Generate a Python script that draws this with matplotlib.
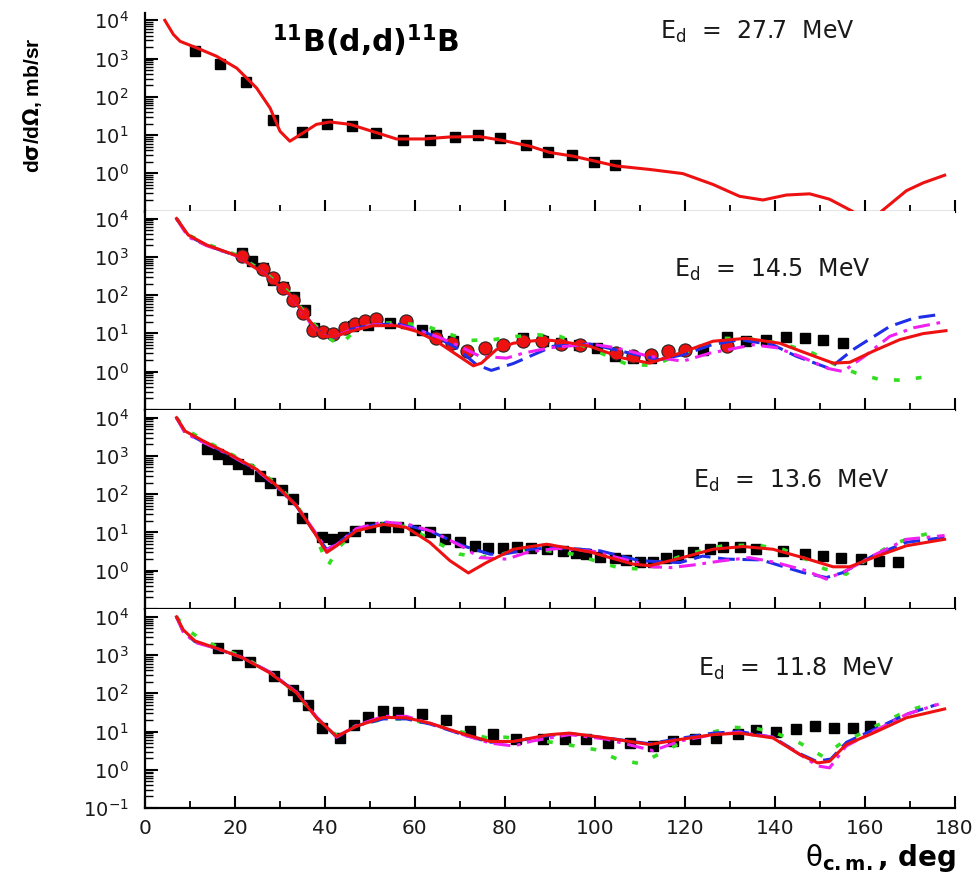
import numpy as np
import matplotlib
matplotlib.use("Agg")
import matplotlib.pyplot as plt
from matplotlib.ticker import LogLocator, MultipleLocator, FixedLocator, NullFormatter

plt.rcParams['font.family'] = ['DejaVu Sans']
plt.rcParams['mathtext.fontset'] = 'dejavusans'

# ---- 27.7 MeV ----
th_exp1 = [11.1, 16.7, 22.4, 28.5, 34.8, 40.5, 46.1, 51.3, 57.4, 63.3, 68.9, 74.1, 78.9, 84.7, 89.6, 95.0, 99.8, 104.4]
cs_exp1 = [1620, 740, 240, 24.5, 12, 20, 17, 11.5, 7.3, 7.3, 8.9, 10, 8.2, 5.6, 3.5, 3.0, 2.0, 1.65]
th_red1 = [4.4, 6.3, 7.8, 11.5, 15.9, 20.4, 24.8, 27.8, 30, 32.2, 35.2, 38.1, 41.1, 45.6, 51.5, 55.9, 61.9, 67.8,
           74.4, 79.6, 85.6, 90, 95.2, 104.8, 112.2, 119.6, 126.3, 132.2, 137.4, 142.6, 147.8, 152.2, 157.4,
           160.5, 163.7, 169.3, 173, 177.8]
cs_red1 = [10000, 4270, 2820, 1900, 1150, 560, 170, 51, 12.6, 6.9, 11.5, 19, 22, 19, 11.5, 7.9, 7.9, 8.9,
           9.1, 7.2, 5.1, 3.5, 2.8, 1.55, 1.26, 0.98, 0.51, 0.25, 0.20, 0.27, 0.29, 0.21, 0.10,
           0.01, 0.10, 0.35, 0.56, 0.89]

# ---- 14.5 MeV ----
th_exp2 = [21.5, 23.7, 26.3, 28.5, 30.7, 33.2, 35.6, 37.6, 46.3, 49.6, 54.4, 58.1, 61.5, 64.8, 68.5, 84.1, 88.5,
           92.4, 96.5, 100.4, 104.4, 108.5, 112.6, 124.1, 129.3, 133.7, 138.1, 142.6, 146.7, 150.7, 155.2]
cs_exp2 = [1230, 794, 500, 251, 166, 89, 40, 13.8, 15.1, 16.6, 18.6, 18.6, 12.3, 9.1, 6.2, 7.4, 6.3,
           5.5, 5.0, 4.1, 2.6, 2.24, 2.24, 3.7, 7.8, 6.2, 6.8, 7.9, 7.4, 6.5, 5.5]
th_circ2 = [21.5, 26.3, 28.5, 30.7, 32.9, 35.1, 37.4, 39.6, 41.9, 44.4, 46.7, 48.9, 51.3, 58.1, 64.8, 68.3, 71.5,
            75.6, 79.6, 84.1, 88.3, 92.6, 96.7, 104.8, 108.5, 112.6, 116.3, 120.0, 129.3]
cs_circ2 = [1070, 480, 275, 150, 72, 34, 12.3, 10.7, 9.5, 14.1, 17.4, 21.4, 24, 20.4, 7.4, 5.5, 3.4,
            4.1, 5.0, 6.2, 6.2, 5.2, 5.0, 3.0, 2.5, 2.75, 3.4, 3.7, 4.6]
th_red2 = [7, 9.6, 13.7, 20.4, 26.3, 32.2, 36.7, 39.6, 42.2, 45.6, 50.7, 55.9, 60.4, 64.8, 69.3, 73, 74.8, 78.1,
           81.9, 88.5, 92.2, 98.9, 106.3, 112.2, 118.9, 126.3, 133.7, 141.1, 147, 153, 156.7, 161.9, 167.8, 173, 178.1]
cs_red2 = [10000, 3720, 2040, 1070, 372, 102, 20.4, 8.3, 8.3, 11.2, 15.8, 15.8, 11.2, 6.2, 2.75, 1.41, 1.66, 3.72,
           5.5, 6.8, 6.2, 4.57, 2.24, 1.66, 3.02, 6.2, 7.4, 5.5, 3.02, 1.66, 1.74, 3.39, 6.8, 9.8, 11.7]
th_blue2 = [7, 9.6, 13.7, 20.4, 26.3, 32.2, 36.7, 39.6, 42.2, 45.6, 50.7, 55.9, 60.4, 64.8, 69.3, 73.7, 77, 81.9,
            85.6, 90.7, 99, 107.8, 114.4, 120, 126, 132.2, 139.6, 144.8, 152.2, 157.4, 165.6, 171, 176.7]
cs_blue2 = [10000, 3550, 2000, 1050, 380, 100, 20, 8.9, 7.9, 12.6, 16.6, 17.8, 13.2, 7.9, 4.17, 1.51, 1.07, 1.62,
            2.51, 4.57, 5.25, 3.02, 2.04, 2.82, 5.0, 6.8, 5.0, 2.51, 1.2, 3.72, 15.1, 25, 31]
th_mag2 = [7, 9.6, 13.7, 20.4, 26.3, 32.2, 36.7, 39.6, 42.2, 45.6, 50.7, 55.9, 60.4, 64.8, 69.3, 74.4, 80.4, 84.1,
           90, 99, 104.8, 112, 119.6, 125.6, 135.2, 140.5, 146, 151.9, 155.2, 160, 165.6, 171, 178.1]
cs_mag2 = [10000, 3310, 1950, 1050, 380, 100, 19, 8.5, 8.3, 12, 16.6, 16.6, 12.6, 8.3, 5.0, 2.51, 2.24, 3.02,
           4.17, 5.25, 4.17, 2.51, 1.86, 3.02, 5.0, 4.17, 2.4, 1.2, 1.0, 2.51, 8.3, 14, 20.4]
th_grn2 = [7, 10, 14, 20.4, 26.3, 32.2, 36.7, 40, 43.3, 46.5, 51, 56, 62.2, 67, 72.2, 77.4, 82.6, 87.4, 92.2,
           100, 107.4, 113, 119, 128.5, 135, 142, 148.5, 154, 158.1, 163.3, 168.5, 173.3]
cs_grn2 = [10000, 3550, 2090, 1120, 417, 112, 22.4, 8.9, 4.79, 11.2, 17.8, 19, 15.8, 10, 6.5, 6.8, 8.3, 9.1, 8.3,
           3.55, 1.51, 1.45, 2.82, 7.4, 7.1, 5.25, 3.02, 1.41, 0.91, 0.62, 0.59, 0.72]

# ---- 13.6 MeV ----
th_exp3 = [13.7, 16.3, 18.5, 20.7, 23, 25.6, 27.8, 30.4, 32.8, 35, 39.3, 41.9, 44.1, 46.7, 50, 53.3, 56.3, 60,
           63.3, 66.7, 70, 73.3, 76.3, 79.6, 82.6, 85.9, 89.4, 93, 95.9, 98.1, 101.1, 104.4, 107, 110, 113,
           115.9, 118.5, 121.9, 125.6, 128.5, 132.2, 135.9, 141.9, 146.7, 150.7, 154.8, 159.3, 163.3, 167.4]
cs_exp3 = [1480, 1100, 813, 603, 447, 302, 200, 129, 74, 24.5, 7.4, 6.6, 7.4, 11, 13.5, 13.5, 13.5, 11.5,
           10, 6.6, 5.5, 4.47, 3.89, 3.89, 4.07, 3.8, 3.63, 3.31, 2.95, 2.69, 2.34, 2.09, 1.91, 1.70, 1.70,
           2.19, 2.51, 3.09, 3.63, 4.07, 4.07, 3.63, 3.31, 2.69, 2.45, 2.09, 2.0, 1.82, 1.70]
th_red3 = [7, 8.9, 13, 18.9, 24.8, 29.3, 33.7, 37.4, 40.4, 42.6, 47, 53, 58.1, 63.3, 67.8, 71.9, 75.9, 81.9,
           89.3, 98.9, 108.5, 112.2, 118.9, 126.3, 133, 139.6, 146.3, 153, 156.7, 161.9, 169.3, 177.8]
cs_red3 = [10000, 4470, 2450, 1100, 447, 166, 49, 11, 3.0, 4.47, 11, 16.2, 13.5, 5.5, 1.82, 0.87, 1.62, 3.63,
           4.9, 3.09, 1.48, 1.35, 2.09, 3.63, 4.27, 3.63, 2.19, 1.26, 1.26, 2.19, 4.47, 6.6]
th_blue3 = [7, 8.9, 13, 18.9, 24.8, 29.3, 33.7, 37.4, 40.4, 42.6, 47, 53, 58.9, 64, 70.7, 76.7, 79.6, 85.6,
            92, 101.1, 110, 118.9, 124, 129.3, 137, 146.3, 151.5, 155.2, 161.9, 169.3, 177.8]
cs_blue3 = [10000, 4170, 2290, 1050, 427, 158, 48, 11.2, 3.55, 5.0, 12, 17.8, 14.8, 10, 4.47, 2.69, 2.69, 3.63,
            3.98, 3.31, 1.82, 1.62, 2.4, 2.0, 1.91, 0.89, 0.66, 0.89, 2.45, 5.5, 7.4]
th_mag3 = [7, 8.9, 13, 18.9, 24.8, 29.3, 33.7, 37.4, 40.4, 42.6, 47, 53, 58.9, 64, 70.7, 74.4, 80.4, 85.6,
           92, 100, 108, 113, 117, 122, 128.5, 134.4, 140, 147, 151.5, 155.9, 162, 169.3, 177.8]
cs_mag3 = [10000, 3980, 2240, 1050, 427, 158, 50, 12, 3.55, 4.79, 12.6, 19, 15.8, 10.5, 4.17, 2.19, 2.0, 3.16,
           3.8, 3.16, 1.78, 1.26, 1.2, 1.41, 1.82, 2.19, 1.66, 1.0, 0.60, 1.0, 2.51, 6.6, 8.3]
th_grn3 = [7, 9, 13, 18.9, 24.8, 29.3, 33.7, 37.4, 40.7, 43, 47, 53, 58.1, 64.8, 70, 75, 80, 86, 95.2,
           105.2, 110.4, 115, 120.4, 128.5, 135.9, 142, 147, 151, 155.9, 160, 165.6, 170, 175.2]
cs_grn3 = [10000, 5000, 2630, 1150, 479, 178, 52, 11.2, 1.35, 4.0, 11.2, 16.6, 14.1, 5.5, 2.69, 2.24, 2.82, 3.8,
           2.69, 1.2, 1.10, 1.58, 2.69, 4.47, 4.68, 3.55, 2.0, 1.12, 0.81, 1.78, 4.47, 7.1, 10]

# ---- 11.8 MeV ----
th_exp4 = [16.3, 20.4, 23.3, 28.7, 33, 34.1, 36.3, 39.3, 43.3, 46.4, 49.6, 53, 56.3, 61.5, 66.9, 72.2, 77.3,
           82.4, 88.5, 93.3, 98.1, 103, 107.8, 113, 117.4, 122.2, 127, 131.9, 135.9, 140.4, 144.8, 148.9,
           153.3, 157.4, 161.1]
cs_exp4 = [1510, 977, 661, 275, 123, 83, 50, 12.3, 6.8, 15.1, 24, 34, 32.4, 28.8, 20.4, 10.5, 8.7,
           6.5, 6.2, 6.2, 6.2, 5.0, 5.0, 4.07, 5.5, 6.2, 6.8, 8.7, 11.2, 10, 12, 14.1,
           12.3, 12.3, 13.8]
th_red4 = [7, 8.5, 11.1, 15.9, 21.8, 27.8, 33.7, 38.1, 42.6, 47, 53, 58.1, 63.3, 70.7, 76.7, 81.9, 90, 94.4,
           102.6, 112.2, 118.9, 126.3, 132.2, 139.6, 145.6, 149.6, 152.2, 155.9, 161.9, 169.3, 177.8]
cs_red4 = [10000, 4570, 2340, 1510, 832, 339, 102, 22.9, 7.4, 13.8, 23.4, 22.9, 16.6, 8.7, 5.5, 5.5, 8.3, 9.1,
           6.8, 4.57, 6.2, 8.3, 9.1, 6.8, 2.51, 1.51, 1.66, 4.57, 9.1, 22.9, 38.9]
th_blue4 = [7, 8.5, 11.1, 15.9, 21.8, 27.8, 33.7, 38.1, 42.6, 47, 53, 58.1, 63.3, 70.7, 76.7, 81.9, 90, 95,
            102.6, 112.2, 118.9, 126.3, 132.2, 139.6, 145.6, 149.3, 152.5, 156, 162, 169.3, 175.9]
cs_blue4 = [10000, 4170, 2240, 1480, 832, 355, 105, 24, 7.2, 14.1, 21.4, 21.4, 15.8, 8.3, 5.25, 5.5, 7.9, 8.7,
            6.8, 4.79, 6.6, 9.1, 10, 7.1, 2.63, 1.66, 1.91, 5.25, 11.2, 28.2, 50]
th_mag4 = [7, 8.5, 11.1, 15.9, 21.8, 27.8, 33.7, 38.1, 42.6, 47, 53, 58.1, 63.3, 70.7, 76.7, 82, 86, 94.4,
           102.6, 113, 118.9, 126.3, 132.2, 139.6, 145.6, 149.6, 152.2, 155.9, 162, 169.3, 176.5]
cs_mag4 = [10000, 3980, 2140, 1480, 851, 355, 107, 24, 7.1, 14.5, 25, 25, 16.6, 8.3, 5.0, 4.17, 5.62, 8.3,
           6.3, 3.16, 5.62, 8.3, 9.5, 7.1, 2.51, 1.26, 1.12, 4.17, 10, 28.2, 52]
th_grn4 = [7, 9, 11.5, 16, 21.8, 27.8, 33.7, 38.1, 42.6, 47, 53, 58.1, 63.3, 70.7, 76.7, 80, 86, 95.2, 100,
           105.2, 110, 115, 120.4, 125, 130.7, 136, 140.5, 145.6, 150.7, 154.4, 160, 169.3, 174.4]
cs_grn4 = [10000, 5000, 3090, 1660, 891, 355, 100, 22.4, 7.9, 14.1, 21.4, 21.4, 15.8, 9.5, 6.6, 7.1, 6.3, 4.27, 3.39,
           1.86, 1.45, 2.82, 6.2, 8.9, 12.9, 12, 8.9, 5.0, 2.24, 4.57, 10, 33.9, 52]

energies = ['27.7', '14.5', '13.6', '11.8']
ytick_vals = [0.1, 1, 10, 100, 1000, 10000]
ytick_text = [r'$\mathregular{10^{-1}}$', r'$\mathregular{10^{0}}$', r'$\mathregular{10^{1}}$',
              r'$\mathregular{10^{2}}$', r'$\mathregular{10^{3}}$', r'$\mathregular{10^{4}}$']

RED = '#ee1111'
BLUE = '#1f2ee8'
MAGENTA = '#f020f0'
GREEN = '#33dd22'

fig = plt.figure(figsize=(9.8, 8.85), dpi=100)

left, width = 0.148, 0.826
bottoms = [0.761, 0.537, 0.312, 0.087]
height = 0.2245
axes = [fig.add_axes([left, b, width, height]) for b in bottoms]


def style_axis(ax, last):
    ax.set_yscale('log')
    ax.set_xlim(0, 180)
    ax.set_ylim(0.1, 1.57e4)
    for side in ('top', 'right'):
        ax.spines[side].set_visible(False)
    for side in ('left', 'bottom'):
        ax.spines[side].set_linewidth(1.6)
    ax.xaxis.set_major_locator(MultipleLocator(20))
    ax.xaxis.set_minor_locator(MultipleLocator(10))
    ax.yaxis.set_major_locator(FixedLocator(ytick_vals))
    labels = list(ytick_text) if last else [''] + ytick_text[1:]
    ax.set_yticklabels(labels)
    ax.yaxis.set_minor_locator(LogLocator(base=10, subs=np.arange(2, 10)))
    ax.yaxis.set_minor_formatter(NullFormatter())
    ax.tick_params(axis='both', which='major', direction='in', length=9, width=1.5,
                   top=False, right=False)
    ax.tick_params(axis='x', which='minor', direction='in', length=5, width=1.3, top=False)
    ax.tick_params(axis='y', which='minor', direction='in', length=5.5, width=1.0, right=False)
    ax.tick_params(axis='y', which='major', labelsize=14, pad=12, labelcolor='#1a1a1a')
    ax.tick_params(axis='x', which='major', labelsize=14.5, pad=8, labelbottom=last,
                   labelcolor='#1a1a1a')


sq = dict(ls='none', marker='s', ms=6.5, color='black', zorder=3)
circ = dict(ls='none', marker='o', ms=9.5, mfc='#ee1111', mec='#222222', mew=0.8, zorder=4)
kw_red = dict(color=RED, lw=2.2, zorder=6)
kw_blue = dict(color=BLUE, lw=2.2, ls=(0, (5.5, 2.5)), zorder=5)
kw_mag = dict(color=MAGENTA, lw=2.2, ls=(0, (5.5, 2.2, 1.2, 2.2)), zorder=5)
kw_grn = dict(color=GREEN, lw=2.6, ls=(0, (1.6, 4.5)), zorder=5)

# top panel: only the solid fit
ax = axes[0]
style_axis(ax, False)
ax.plot(th_exp1, cs_exp1, **sq)
ax.plot(th_red1, cs_red1, **kw_red)

ax = axes[1]
style_axis(ax, False)
ax.plot(th_exp2, cs_exp2, **sq)
ax.plot(th_circ2, cs_circ2, **circ)
ax.plot(th_grn2, cs_grn2, **kw_grn)
ax.plot(th_blue2, cs_blue2, **kw_blue)
ax.plot(th_mag2, cs_mag2, **kw_mag)
ax.plot(th_red2, cs_red2, **kw_red)

ax = axes[2]
style_axis(ax, False)
ax.plot(th_exp3, cs_exp3, **sq)
ax.plot(th_grn3, cs_grn3, **kw_grn)
ax.plot(th_blue3, cs_blue3, **kw_blue)
ax.plot(th_mag3, cs_mag3, **kw_mag)
ax.plot(th_red3, cs_red3, **kw_red)

ax = axes[3]
style_axis(ax, True)
ax.plot(th_exp4, cs_exp4, **sq)
ax.plot(th_grn4, cs_grn4, **kw_grn)
ax.plot(th_blue4, cs_blue4, **kw_blue)
ax.plot(th_mag4, cs_mag4, **kw_mag)
ax.plot(th_red4, cs_red4, **kw_red)

# energy labels
label_pos = [(0.636, 0.905), (0.654, 0.705), (0.677, 0.645), (0.683, 0.70)]
for ax, e, (lx, ly) in zip(axes, energies, label_pos):
    ax.text(lx, ly, r'E$_\mathregular{d}$  =  ' + e + '  MeV', transform=ax.transAxes,
            fontsize=17, color='#1a1a1a', ha='left', va='center')

axes[0].text(0.272, 0.862, r'$\mathbf{^{11}}$B(d,d)$\mathbf{^{11}}$B', transform=axes[0].transAxes,
             fontsize=21.5, fontweight='bold', ha='center', va='center')

fig.text(0.033, 0.881, r'd$\mathbf{\sigma}$/d$\mathbf{\Omega}$, mb/sr', rotation=90, ha='center', va='center',
         fontsize=15, fontweight='bold', family='Liberation Sans')
fig.text(0.975, 0.031, r'$\mathrm{\theta}_{\mathbf{c.m.}}$, deg', ha='right', va='center',
         fontsize=20, fontweight='bold')

fig.savefig('out.png', dpi=100)
